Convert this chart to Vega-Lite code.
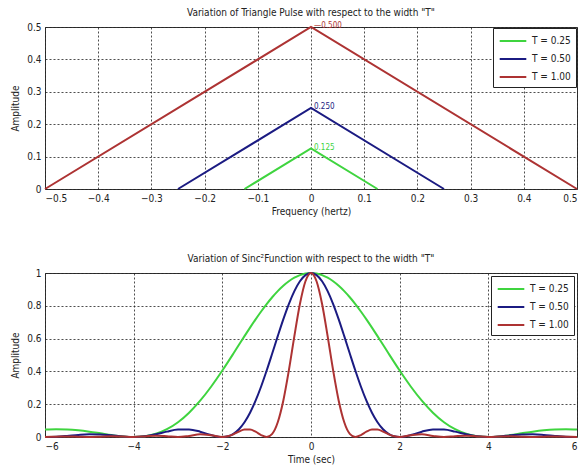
{
  "$schema": "https://vega.github.io/schema/vega-lite/v6.json",
  "background": "white",
  "padding": {"left": 10, "top": 7, "right": 2, "bottom": 2},
  "spacing": 36,
  "config": {
    "font": "DejaVu Sans Condensed, Liberation Sans",
    "view": {"stroke": "#333", "strokeWidth": 1},
    "axis": {
      "labelFont": "DejaVu Sans Condensed, Liberation Sans", "titleFont": "DejaVu Sans Condensed, Liberation Sans",
      "labelFontSize": 10, "titleFontSize": 10, "titleFontWeight": "normal",
      "labelColor": "#222", "titleColor": "#222", "labelOverlap": false,
      "grid": true, "gridColor": "#222", "gridDash": [2, 2], "gridOpacity": 0.8,
      "domain": false, "ticks": false, "labelPadding": 4
    },
    "title": {"font": "DejaVu Sans Condensed, Liberation Sans", "fontSize": 10, "fontWeight": "normal", "color": "#222", "offset": 0},
    "legend": {
      "labelFont": "DejaVu Sans Condensed, Liberation Sans", "labelFontSize": 10, "labelColor": "#222",
      "orient": "top-right", "offset": 1, "padding": 5, "strokeColor": "#222", "fillColor": "white",
      "symbolType": "M-1.9,0H1.9", "symbolSize": 196, "symbolOffset": 7, "labelOffset": 11,
      "symbolStrokeWidth": 2, "rowPadding": 5, "title": null, "cornerRadius": 0
    }
  },
  "resolve": {"legend": {"color": "independent"}},
  "vconcat": [
    {
      "width": 532, "height": 162,
      "title": "Variation of Triangle Pulse with respect to the width \"T\"",
      "encoding": {
        "x": {"field": "f", "type": "quantitative", "scale": {"domain": [-0.5, 0.5], "nice": false}, "axis": {"title": "Frequency (hertz)", "values": [-0.5,-0.4,-0.3,-0.2,-0.1,0,0.1,0.2,0.3,0.4,0.5], "format": "~g", "titlePadding": 3}},
        "y": {"field": "amp", "type": "quantitative", "scale": {"domain": [0, 0.5], "nice": false}, "axis": {"title": "Amplitude", "values": [0,0.1,0.2,0.3,0.4,0.5], "format": "~g", "titlePadding": 6}},
        "color": {"field": "T", "type": "nominal", "scale": {"domain": ["T = 0.25", "T = 0.50", "T = 1.00"], "range": ["#3fd43f", "#1b1b82", "#ad3333"]}}
      },
      "layer": [
        {
          "data": {"values": [
            {"f": -0.5, "amp": 0, "T": "T = 1.00"}, {"f": 0, "amp": 0.5, "T": "T = 1.00"}, {"f": 0.5, "amp": 0, "T": "T = 1.00"},
            {"f": -0.25, "amp": 0, "T": "T = 0.50"}, {"f": 0, "amp": 0.25, "T": "T = 0.50"}, {"f": 0.25, "amp": 0, "T": "T = 0.50"},
            {"f": -0.125, "amp": 0, "T": "T = 0.25"}, {"f": 0, "amp": 0.125, "T": "T = 0.25"}, {"f": 0.125, "amp": 0, "T": "T = 0.25"}
          ]},
          "mark": {"type": "line", "strokeWidth": 2}
        },
        {
          "data": {"values": [
            {"f": 0, "amp": 0.5, "label": "—0.500", "T": "T = 1.00"},
            {"f": 0, "amp": 0.25, "label": "0.250", "T": "T = 0.50"},
            {"f": 0, "amp": 0.125, "label": "0.125", "T": "T = 0.25"}
          ]},
          "mark": {"type": "text", "align": "left", "baseline": "bottom", "dx": 3, "dy": 3, "fontSize": 8},
          "encoding": {"text": {"field": "label"}}
        }
      ]
    },
    {
      "width": 532, "height": 164,
      "title": "Variation of Sinc²Function with respect to the width \"T\"",
      "data": {"values": [
        {"t": -6, "g": 0.04503, "b": 0, "r": 0},
        {"t": -5.75, "g": 0.04717, "b": 0.0018, "r": 0.00153},
        {"t": -5.5, "g": 0.04574, "b": 0.0067, "r": 0.00335},
        {"t": -5.25, "g": 0.04066, "b": 0.01255, "r": 0.00184},
        {"t": -5, "g": 0.03242, "b": 0.01621, "r": 0},
        {"t": -4.75, "g": 0.02218, "b": 0.01533, "r": 0.00225},
        {"t": -4.5, "g": 0.01172, "b": 0.01001, "r": 0.005},
        {"t": -4.25, "g": 0.00342, "b": 0.00329, "r": 0.0028},
        {"t": -4, "g": 0, "b": 0, "r": 0},
        {"t": -3.75, "g": 0.00439, "b": 0.00422, "r": 0.0036},
        {"t": -3.5, "g": 0.01938, "b": 0.01654, "r": 0.00827},
        {"t": -3.25, "g": 0.04737, "b": 0.03275, "r": 0.0048},
        {"t": -3, "g": 0.09006, "b": 0.04503, "r": 0},
        {"t": -2.75, "g": 0.1482, "b": 0.04574, "r": 0.0067},
        {"t": -2.5, "g": 0.2214, "b": 0.03242, "r": 0.01621},
        {"t": -2.25, "g": 0.30804, "b": 0.01172, "r": 0.01001},
        {"t": -2, "g": 0.40528, "b": 0, "r": 0},
        {"t": -1.875, "g": 0.45669, "b": 0.00439, "r": 0.00422},
        {"t": -1.75, "g": 0.50921, "b": 0.01938, "r": 0.01654},
        {"t": -1.625, "g": 0.56219, "b": 0.04737, "r": 0.03275},
        {"t": -1.5, "g": 0.61498, "b": 0.09006, "r": 0.04503},
        {"t": -1.375, "g": 0.66692, "b": 0.1482, "r": 0.04574},
        {"t": -1.25, "g": 0.71729, "b": 0.2214, "r": 0.03242},
        {"t": -1.125, "g": 0.7654, "b": 0.30804, "r": 0.01172},
        {"t": -1, "g": 0.81058, "b": 0.40528, "r": 0},
        {"t": -0.875, "g": 0.85215, "b": 0.50921, "r": 0.01938},
        {"t": -0.75, "g": 0.88955, "b": 0.61498, "r": 0.09006},
        {"t": -0.625, "g": 0.92223, "b": 0.71729, "r": 0.2214},
        {"t": -0.5, "g": 0.94963, "b": 0.81058, "r": 0.40528},
        {"t": -0.375, "g": 0.97141, "b": 0.88955, "r": 0.61498},
        {"t": -0.25, "g": 0.98722, "b": 0.94963, "r": 0.81058},
        {"t": -0.125, "g": 0.99679, "b": 0.98722, "r": 0.94963},
        {"t": 0, "g": 1, "b": 1, "r": 1},
        {"t": 0.125, "g": 0.99679, "b": 0.98722, "r": 0.94963},
        {"t": 0.25, "g": 0.98722, "b": 0.94963, "r": 0.81058},
        {"t": 0.375, "g": 0.97141, "b": 0.88955, "r": 0.61498},
        {"t": 0.5, "g": 0.94963, "b": 0.81058, "r": 0.40528},
        {"t": 0.625, "g": 0.92223, "b": 0.71729, "r": 0.2214},
        {"t": 0.75, "g": 0.88955, "b": 0.61498, "r": 0.09006},
        {"t": 0.875, "g": 0.85215, "b": 0.50921, "r": 0.01938},
        {"t": 1, "g": 0.81058, "b": 0.40528, "r": 0},
        {"t": 1.125, "g": 0.7654, "b": 0.30804, "r": 0.01172},
        {"t": 1.25, "g": 0.71729, "b": 0.2214, "r": 0.03242},
        {"t": 1.375, "g": 0.66692, "b": 0.1482, "r": 0.04574},
        {"t": 1.5, "g": 0.61498, "b": 0.09006, "r": 0.04503},
        {"t": 1.625, "g": 0.56219, "b": 0.04737, "r": 0.03275},
        {"t": 1.75, "g": 0.50921, "b": 0.01938, "r": 0.01654},
        {"t": 1.875, "g": 0.45669, "b": 0.00439, "r": 0.00422},
        {"t": 2, "g": 0.40528, "b": 0, "r": 0},
        {"t": 2.25, "g": 0.30804, "b": 0.01172, "r": 0.01001},
        {"t": 2.5, "g": 0.2214, "b": 0.03242, "r": 0.01621},
        {"t": 2.75, "g": 0.1482, "b": 0.04574, "r": 0.0067},
        {"t": 3, "g": 0.09006, "b": 0.04503, "r": 0},
        {"t": 3.25, "g": 0.04737, "b": 0.03275, "r": 0.0048},
        {"t": 3.5, "g": 0.01938, "b": 0.01654, "r": 0.00827},
        {"t": 3.75, "g": 0.00439, "b": 0.00422, "r": 0.0036},
        {"t": 4, "g": 0, "b": 0, "r": 0},
        {"t": 4.25, "g": 0.00342, "b": 0.00329, "r": 0.0028},
        {"t": 4.5, "g": 0.01172, "b": 0.01001, "r": 0.005},
        {"t": 4.75, "g": 0.02218, "b": 0.01533, "r": 0.00225},
        {"t": 5, "g": 0.03242, "b": 0.01621, "r": 0},
        {"t": 5.25, "g": 0.04066, "b": 0.01255, "r": 0.00184},
        {"t": 5.5, "g": 0.04574, "b": 0.0067, "r": 0.00335},
        {"t": 5.75, "g": 0.04717, "b": 0.0018, "r": 0.00153},
        {"t": 6, "g": 0.04503, "b": 0, "r": 0}
      ]},
      "transform": [
        {"fold": ["g", "b", "r"], "as": ["key", "amp"]},
        {"lookup": "key", "from": {"data": {"values": [{"key": "g", "T": "T = 0.25"}, {"key": "b", "T": "T = 0.50"}, {"key": "r", "T": "T = 1.00"}]}, "key": "key", "fields": ["T"]}}
      ],
      "mark": {"type": "line", "strokeWidth": 2, "interpolate": "monotone"},
      "encoding": {
        "x": {"field": "t", "type": "quantitative", "scale": {"domain": [-6, 6], "nice": false}, "axis": {"title": "Time (sec)", "values": [-6,-4,-2,0,2,4,6], "titlePadding": 3}},
        "y": {"field": "amp", "type": "quantitative", "scale": {"domain": [0, 1], "nice": false}, "axis": {"title": "Amplitude", "values": [0,0.2,0.4,0.6,0.8,1], "format": "~g", "titlePadding": 6}},
        "color": {"field": "T", "type": "nominal", "scale": {"domain": ["T = 0.25", "T = 0.50", "T = 1.00"], "range": ["#3fd43f", "#1b1b82", "#ad3333"]}, "legend": {"offset": 3}},
        "order": {"field": "t", "type": "quantitative"}
      }
    }
  ]
}
